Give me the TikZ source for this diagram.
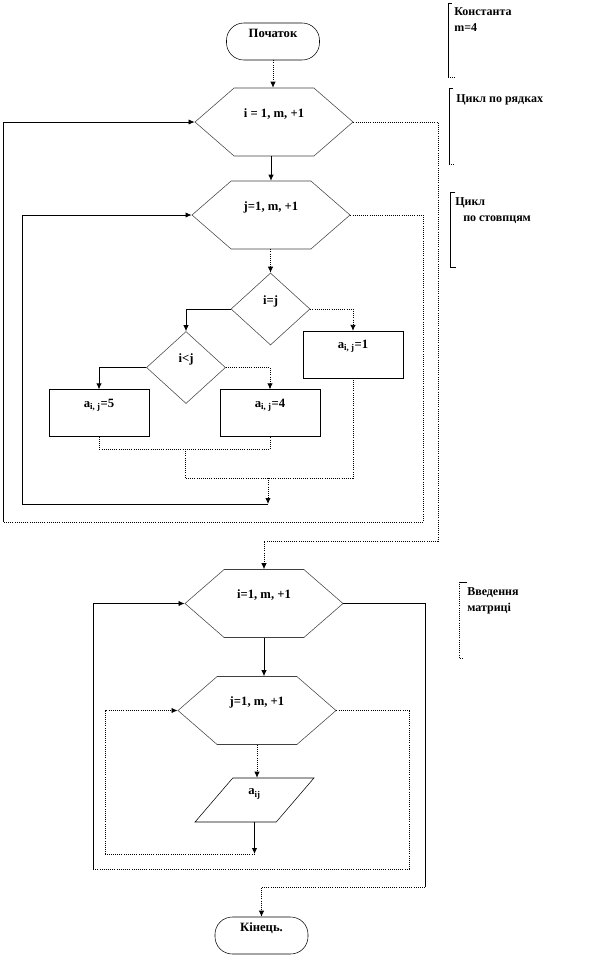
\documentclass[tikz,border=0pt]{standalone}
\usepackage{fontspec}
\setmainfont{Liberation Serif}
\usetikzlibrary{shapes.geometric,shapes.symbols,arrows.meta}

\begin{document}
\begin{tikzpicture}
	[x=0.75pt,y=-0.75pt,>={Latex[length=4.5pt,width=4pt]},
	 every node/.style={font=\fontsize{9.5}{11}\selectfont\bfseries},
	 term/.style={draw,rounded corners=13pt,minimum width=69.75pt,minimum height=27.75pt,inner sep=1pt,text depth=12.75pt},
	 loopbox/.style={signal,signal to=east and west,signal pointer angle=82,draw=black!75,minimum width=118.5pt,minimum height=51pt,inner sep=1pt,text depth=13.5pt},
	 test/.style={diamond,draw=black!75,minimum width=59.25pt,minimum height=54pt,inner sep=0pt,text depth=13.5pt},
	 assign/.style={draw,minimum width=75pt,minimum height=35pt,inner sep=1pt,text depth=15pt},
	 iobox/.style={trapezium,trapezium left angle=62,trapezium right angle=118,trapezium stretches=true,draw,minimum width=89.25pt,minimum height=33pt,inner sep=1pt,text depth=12pt},
	 note/.style={anchor=north west,align=left,inner sep=0pt,font=\fontsize{9}{12.5}\selectfont\bfseries},
	 flow/.style={->,line width=0.6pt},
	 dflow/.style={->,line width=0.6pt,densely dotted},
	 line/.style={line width=0.6pt},
	 dline/.style={line width=0.6pt,densely dotted}]
\useasboundingbox (0,0) rectangle (603,961);

% blocks
\node[term] (start) at (273,41.5) {Початок};
\node[loopbox] (ri) at (274,122) {i = 1, m, +1};
\node[loopbox] (cj) at (271,215) {j=1, m, +1};
\node[test] (ij) at (270.5,309) {i=j};
\node[test] (ilj) at (186,367.5) {i<j};
\node[assign] (a1) at (353,354.5) {a\textsubscript{i, j}=1};
\node[assign] (a5) at (99,413) {a\textsubscript{i, j}=5};
\node[assign] (a4) at (270,413) {a\textsubscript{i, j}=4};
\node[loopbox] (ro) at (264,603.5) {i=1, m, +1};
\node[loopbox] (co) at (257,710.5) {j=1, m, +1};
\node[iobox] (inp) at (254.5,800) {a\textsubscript{ij}};
\node[term] (fin) at (261.5,935.5) {Кінець.};

% turning points
\coordinate (railA) at (438,541);
\coordinate (rtA) at (423,522);
\coordinate (ltA) at (3,522);
\coordinate (m1) at (185,449);
\coordinate (m2) at (185,478);
\coordinate (m3) at (268,504);
\coordinate (inL) at (22,504);
\coordinate (m4) at (256,854);
\coordinate (inL2) at (105,854);
\coordinate (rtB) at (409,869);
\coordinate (ltB) at (93,869);
\coordinate (railB) at (425,887);

% filling the matrix
\draw[dflow] (start) -- (start |- ri.north);
\draw[flow] (ri.south -| cj.north) -- (cj.north);
\draw[dflow] (cj.south -| ij.north) -- (ij.north);
\draw[flow] (ij.west) -| (ilj.north);
\draw[dflow] (ij.east) -| (a1.north);
\draw[flow] (ilj.west) -| (a5.north);
\draw[dflow] (ilj.east) -| (a4.north);
\draw[dline] (a5.south) |- (m1) -| (a4.south);
\draw[dline] (m1) -- (m2) -| (a1.south);
\draw[dflow] (m3 |- m2) -- (m3);
\draw[flow] (m3) -- (inL) |- (cj.west);
\draw[dline] (cj.east) -| (rtA) -- (ltA);
\draw[flow] (ltA) |- (ri.west);
\draw[dline] (ri.east) -| (railA);
\draw[dflow] (railA) -| (ro.north);

% printing the matrix
\draw[flow] (ro.south) -- (ro.south |- co.north);
\draw[dflow] (co.south) -- (co.south |- inp.north);
\draw[flow] (inp.south) -- (inp.south |- m4);
\draw[dflow] (inp.south |- m4) -- (inL2) |- (co.west);
\draw[dline] (co.east) -| (rtB) -- (ltB);
\draw[flow] (ltB) |- (ro.west);
\draw[line] (ro.east) -| (railB);
\draw[dflow] (railB) -| (fin.north);

% comments
\node[note] (cnst) at (454,7) {Константа\\m=4};
\draw[line] (452,3) -- (448,3) -- (448,77);
\draw[dline] (448,77) -- (455,77);
\node[note] (rows) at (456,94) {Цикл по рядках};
\draw[line] (453,88) -- (449,88) -- (449,164);
\draw[dline] (449,164) -- (455,164);
\node[note] (cols) at (455,197) {Цикл\\\hspace*{6pt}по стовпцям};
\draw[line] (455,192) -- (450,192) -- (450,267) -- (456,267);
\node[note] (inmx) at (467,587) {Введення\\матриці};
\draw[line] (467,582) -- (459,582);
\draw[dline] (459,582) -- (459,658) -- (463,658);
\end{tikzpicture}
\end{document}
